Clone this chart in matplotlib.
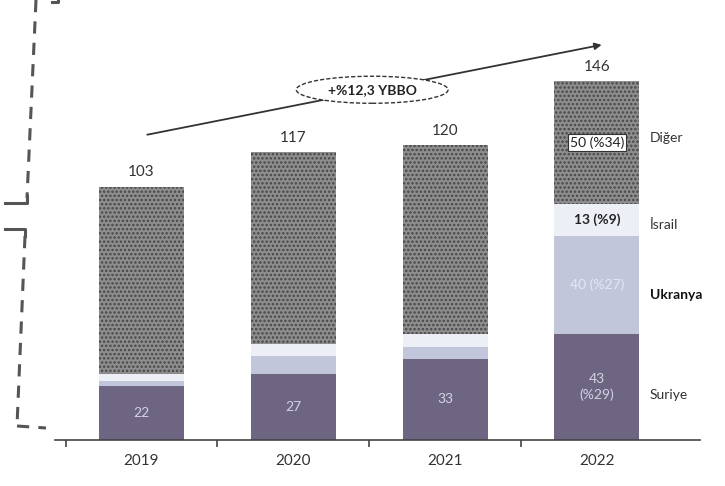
import matplotlib
matplotlib.use("Agg")
import matplotlib.pyplot as plt
from matplotlib.patches import Ellipse
from matplotlib.lines import Line2D
import numpy as np

plt.rcParams['font.family'] = ['Lato', 'DejaVu Sans']
plt.rcParams['hatch.linewidth'] = 1.2

years = ["2019", "2020", "2021", "2022"]
suriye = [22, 27, 33, 43]
ukranya = [2, 7, 5, 40]
israil = [3, 5, 5, 13]
diger = [76, 78, 77, 50]
totals = [103, 117, 120, 146]
suriye_labels = ["22", "27", "33", "43\n(%29)"]
series_names = ["Suriye", "Ukranya", "İsrail", "Diğer"]
cagr_label = "+%12,3 YBBO"

c_suriye = "#6d6581"
c_ukr = "#c2c6db"
c_isr = "#eceff5"
c_dig = "#8e8e8e"

fig = plt.figure(figsize=(7.25, 4.86), dpi=100)
W, H = 725, 486
ax = fig.add_axes([55 / W, 46 / H, (700 - 55) / W, (440 - 32) / H])

x = np.arange(len(years))
bw = 0.56
b1 = np.array(suriye, float)
b2 = b1 + np.array(ukranya)
b3 = b2 + np.array(israil)

ax.bar(x, suriye, bw, color=c_suriye, linewidth=0)
ax.bar(x, ukranya, bw, bottom=b1, color=c_ukr, linewidth=0)
ax.bar(x, israil, bw, bottom=b2, color=c_isr, linewidth=0)
ax.bar(x, diger, bw, bottom=b3, color=c_dig, linewidth=0,
       hatch="....", edgecolor="#474747")

ax.set_xlim(-0.57, 3.68)
ax.set_ylim(0, 166)

for i in range(len(years)):
    ax.text(x[i], totals[i] + 3, str(totals[i]), ha="center", va="bottom",
            fontsize=11, color="#333333")
    ax.text(x[i], suriye[i] / 2, suriye_labels[i], ha="center", va="center",
            fontsize=10, color="#d6d2e4", linespacing=1.3)

# 2022 details
ax.text(x[3], b1[3] + ukranya[3] / 2, "40 (%27)", ha="center", va="center",
        fontsize=10, color="#e4e7f1")
ax.text(x[3], b2[3] + israil[3] / 2, "13 (%9)", ha="center", va="center",
        fontsize=10, color="#222222", fontweight="bold")
ax.text(x[3], b3[3] + diger[3] / 2, "50 (%34)", ha="center", va="center",
        fontsize=10, color="#222222",
        bbox=dict(boxstyle="square,pad=0.15", fc="white", ec="#333333", lw=0.8))

# right-hand series labels
lx = 3.35
ax.text(lx, suriye[3] / 2 - 3, series_names[0], ha="left", va="center", fontsize=10, color="#333333")
ax.text(lx, b1[3] + ukranya[3] / 2 - 4, series_names[1], ha="left", va="center", fontsize=10,
        color="#111111", fontweight="bold")
ax.text(lx, b2[3] + israil[3] / 2 - 2, series_names[2], ha="left", va="center", fontsize=10, color="#333333")
ax.text(lx, b3[3] + diger[3] / 2 + 2, series_names[3], ha="left", va="center", fontsize=10, color="#333333")

# growth arrow
ax.annotate("", xy=(3.05, 161), xytext=(0.02, 124),
            arrowprops=dict(arrowstyle="-|>", color="#333333", lw=1.3,
                            mutation_scale=10), annotation_clip=False)
ax.add_patch(Ellipse((1.52, 142.5), 1.0, 11, fc="white", ec="#333333",
                     lw=1.0, ls=(0, (3, 1.5)), zorder=5))
ax.text(1.52, 142.5, cagr_label, ha="center", va="center", fontsize=10,
        fontweight="bold", color="#222222", zorder=6)

# axes styling
for s in ["top", "right", "left"]:
    ax.spines[s].set_visible(False)
ax.spines["bottom"].set_color("#444444")
ax.spines["bottom"].set_linewidth(1.2)
ax.set_yticks([])
ax.set_xticks(x)
ax.set_xticklabels(years, fontsize=11, color="#333333")
ax.tick_params(axis="x", which="major", length=0, pad=10)
ax.set_xticks([-0.5, 0.5, 1.5, 2.5], minor=True)
ax.tick_params(axis="x", which="minor", length=5, width=1.2, color="#444444")

# page frame from the scanned document (dashed bracket on the left)
def fl(xs, ys, **kw):
    fig.add_artist(Line2D([v / W for v in xs], [1 - v / H for v in ys],
                          transform=fig.transFigure, color="#555555", **kw))

dash = dict(lw=2.2, ls=(0, (4, 3)))
fl([36, 27], [0, 198], **dash)
fl([27, 27, 5], [196, 203, 203], lw=2.2)
fl([5, 25, 25], [229, 229, 236], lw=2.2)
fl([25, 17], [236, 426], **dash)
fl([17, 46], [426, 428], **dash)
fl([52, 58, 58], [2, 2, 0], lw=2.2)

fig.savefig("out.png", dpi=100, facecolor="white")
